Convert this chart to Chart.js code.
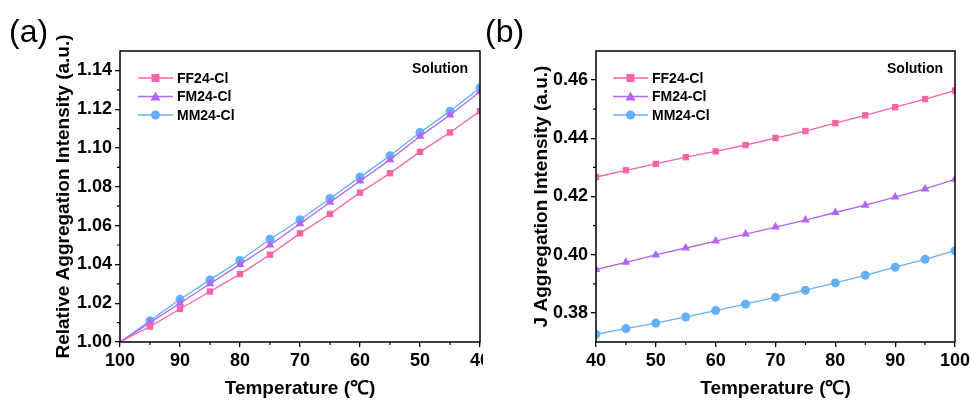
<!DOCTYPE html>
<html>
<head>
<meta charset="utf-8">
<script src="https://cdn.jsdelivr.net/npm/chart.js@4.4.1/dist/chart.umd.min.js"></script>
<style>
  html, body { margin: 0; padding: 0; background: #fff; }
  #wrap { position: relative; width: 971px; height: 400px; overflow: hidden; }
  #relCanvas { position: absolute; left: 0; top: 0; }
  #jCanvas { position: absolute; left: 483px; top: 0; background: #fff; }
</style>
</head>
<body>
<div id="wrap">
  <canvas id="relCanvas" width="485" height="400"></canvas>
  <canvas id="jCanvas" width="488" height="400"></canvas>
</div>
<script>
// temperatures (°C)
var tempsRel = [100, 95, 90, 85, 80, 75, 70, 65, 60, 55, 50, 45, 40];
var tempsJ = [40, 45, 50, 55, 60, 65, 70, 75, 80, 85, 90, 95, 100];

// (a) relative aggregation intensity, cooling from 100 °C
var ffRel = [1.000, 1.008, 1.017, 1.026, 1.035, 1.045, 1.056, 1.066, 1.077, 1.087, 1.098, 1.108, 1.119];
var fmRel = [1.000, 1.010, 1.020, 1.030, 1.040, 1.050, 1.061, 1.072, 1.083, 1.094, 1.106, 1.117, 1.129];
var mmRel = [1.000, 1.011, 1.022, 1.032, 1.042, 1.053, 1.063, 1.074, 1.085, 1.096, 1.108, 1.119, 1.131];

// (b) J aggregation intensity, heating from 40 °C
var ffJ = [0.4267, 0.4290, 0.4312, 0.4335, 0.4355, 0.4377, 0.4401, 0.4425, 0.4452, 0.4479, 0.4507, 0.4535, 0.4564];
var fmJ = [0.3949, 0.3974, 0.3999, 0.4023, 0.4047, 0.4071, 0.4095, 0.4119, 0.4145, 0.4170, 0.4198, 0.4226, 0.4259];
var mmJ = [0.3727, 0.3746, 0.3765, 0.3786, 0.3808, 0.3830, 0.3854, 0.3878, 0.3903, 0.3929, 0.3957, 0.3984, 0.4014];

// tick labels
var xTicks = [40, 50, 60, 70, 80, 90, 100];
var yTicksRel = [1.00, 1.02, 1.04, 1.06, 1.08, 1.10, 1.12, 1.14];
var yTicksJ = [0.38, 0.40, 0.42, 0.44, 0.46];

var seriesNames = ['FF24-Cl', 'FM24-Cl', 'MM24-Cl'];
var seriesColors = ['#f764a5', '#b165f2', '#64aff7'];
var seriesMarkers = ['rect', 'triangle', 'circle'];

var FONT = '"Liberation Sans", Arial, sans-serif';

function toPoints(xs, ys) {
    return xs.map(function (x, i) { return { x: x, y: ys[i] }; });
}

function makeDataset(i, xs, ys, hideFirst) {
    return {
        label: seriesNames[i],
        data: toPoints(xs, ys),
        borderColor: seriesColors[i],
        backgroundColor: seriesColors[i],
        borderWidth: 1.3,
        pointStyle: seriesMarkers[i],
        pointRadius: function (c) {
            if (hideFirst && c.dataIndex === 0) return 0;
            return seriesMarkers[i] === 'triangle' ? 5 : 4.5;
        },
        pointBorderWidth: 0,
        tension: 0
    };
}

// frame, minor ticks, legend box and panel letter
var panelDeco = {
    id: 'panelDeco',
    afterDraw: function (chart, args, opts) {
        var ctx = chart.ctx;
        var a = chart.chartArea;
        var xs = chart.scales.x, ys = chart.scales.y;
        ctx.save();
        ctx.strokeStyle = '#000';
        ctx.lineWidth = 1.5;
        ctx.strokeRect(a.left, a.top, a.right - a.left, a.bottom - a.top);

        // minor ticks
        ctx.lineWidth = 1.2;
        ctx.beginPath();
        opts.xMinor.forEach(function (v) {
            var px = xs.getPixelForValue(v);
            ctx.moveTo(px, a.bottom);
            ctx.lineTo(px, a.bottom + 3);
        });
        opts.yMinor.forEach(function (v) {
            var py = ys.getPixelForValue(v);
            ctx.moveTo(a.left, py);
            ctx.lineTo(a.left - 3, py);
        });
        ctx.stroke();

        // legend
        var lx = a.left + opts.legendX;
        var ly = a.top + 27;
        chart.data.datasets.forEach(function (ds, i) {
            var y = ly + i * 18.5;
            ctx.strokeStyle = ds.borderColor;
            ctx.fillStyle = ds.borderColor;
            ctx.lineWidth = 1.3;
            ctx.beginPath();
            ctx.moveTo(lx, y);
            ctx.lineTo(lx + 35, y);
            ctx.stroke();
            var cx = lx + 17.5;
            ctx.beginPath();
            if (ds.pointStyle === 'rect') {
                ctx.rect(cx - 4, y - 4, 8, 8);
            } else if (ds.pointStyle === 'triangle') {
                ctx.moveTo(cx, y - 5);
                ctx.lineTo(cx + 5, y + 4);
                ctx.lineTo(cx - 5, y + 4);
                ctx.closePath();
            } else {
                ctx.arc(cx, y, 4.5, 0, Math.PI * 2);
            }
            ctx.fill();
            ctx.fillStyle = '#000';
            ctx.font = 'bold 14px ' + FONT;
            ctx.textAlign = 'left';
            ctx.textBaseline = 'middle';
            ctx.fillText(ds.label, lx + 39, y + 1);
        });

        ctx.font = 'bold 14px ' + FONT;
        ctx.textAlign = 'right';
        ctx.textBaseline = 'middle';
        ctx.fillText('Solution', a.right - 12, a.top + 18);

        ctx.font = '32px ' + FONT;
        ctx.textAlign = 'left';
        ctx.textBaseline = 'alphabetic';
        ctx.fillText(opts.letter, opts.letterX, 42);
        ctx.restore();
    }
};

function fixedTicks(values) {
    return function (scale) {
        scale.ticks = values.map(function (v) { return { value: v }; });
    };
}

function axisX(reverse) {
    return {
        type: 'linear',
        min: 40,
        max: 100,
        reverse: reverse,
        afterBuildTicks: fixedTicks(xTicks),
        ticks: {
            color: '#000',
            padding: 3,
            maxRotation: 0,
            autoSkip: false,
            font: { family: FONT, size: 18, weight: 'bold' }
        },
        grid: { drawOnChartArea: false, drawTicks: true, tickLength: 5, color: '#000', lineWidth: 1.3 },
        border: { display: false },
        title: {
            display: true,
            text: 'Temperature (℃)',
            color: '#000',
            padding: { top: 0, bottom: 0 },
            font: { family: FONT, size: 19, weight: 'bold' }
        },
        afterFit: function (scale) {
            scale.height = 58;
            scale.paddingLeft = 0;
            scale.paddingRight = 0;
        }
    };
}

function axisY(min, max, tickValues, titleText, yWidth) {
    return {
        type: 'linear',
        min: min,
        max: max,
        afterBuildTicks: fixedTicks(tickValues),
        ticks: {
            color: '#000',
            padding: 3,
            autoSkip: false,
            font: { family: FONT, size: 18, weight: 'bold' },
            callback: function (v) { return v.toFixed(2); }
        },
        grid: { drawOnChartArea: false, drawTicks: true, tickLength: 5, color: '#000', lineWidth: 1.3 },
        border: { display: false },
        title: {
            display: true,
            text: titleText,
            color: '#000',
            padding: { top: 3, bottom: 0 },
            font: { family: FONT, size: 19, weight: 'bold' }
        },
        afterFit: function (scale) { scale.width = yWidth; }
    };
}

var relChart = new Chart(document.getElementById('relCanvas'), {
    type: 'line',
    data: {
        datasets: [
            makeDataset(0, tempsRel, ffRel, true),
            makeDataset(1, tempsRel, fmRel, true),
            makeDataset(2, tempsRel, mmRel, true)
        ]
    },
    options: {
        responsive: false,
        animation: false,
        layout: { padding: { left: 49, top: 51, right: 5, bottom: 0 } },
        scales: {
            x: axisX(true),
            y: axisY(1.0, 1.15, yTicksRel, 'Relative Aggregation Intensity (a.u.)', 71)
        },
        plugins: {
            legend: { display: false },
            tooltip: { enabled: false },
            panelDeco: {
                letter: '(a)',
                letterX: 9,
                legendX: 18,
                xMinor: [95, 85, 75, 65, 55, 45],
                yMinor: [1.01, 1.03, 1.05, 1.07, 1.09, 1.11, 1.13]
            }
        }
    },
    plugins: [panelDeco]
});

var jChart = new Chart(document.getElementById('jCanvas'), {
    type: 'line',
    data: {
        datasets: [
            makeDataset(0, tempsJ, ffJ, false),
            makeDataset(1, tempsJ, fmJ, false),
            makeDataset(2, tempsJ, mmJ, false)
        ]
    },
    options: {
        responsive: false,
        animation: false,
        layout: { padding: { left: 44, top: 51, right: 16, bottom: 0 } },
        scales: {
            x: axisX(false),
            y: axisY(0.37, 0.47, yTicksJ, 'J Aggregation Intensity (a.u.)', 69)
        },
        plugins: {
            legend: { display: false },
            tooltip: { enabled: false },
            panelDeco: {
                letter: '(b)',
                letterX: 2,
                legendX: 17,
                xMinor: [45, 55, 65, 75, 85, 95],
                yMinor: [0.39, 0.41, 0.43, 0.45]
            }
        }
    },
    plugins: [panelDeco]
});
</script>
</body>
</html>
